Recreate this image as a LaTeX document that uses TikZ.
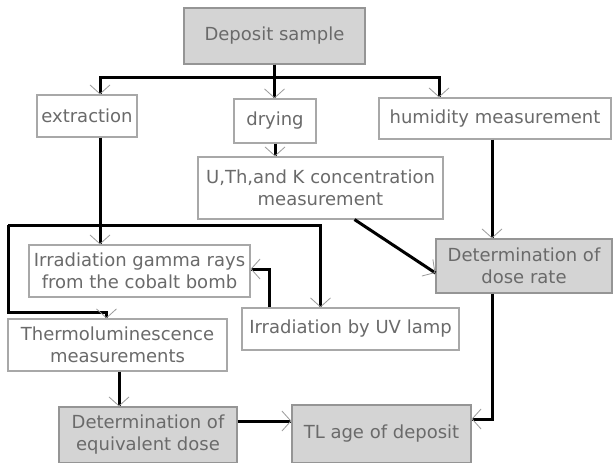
\documentclass[tikz,border=0pt]{standalone}
\usepackage{fontspec}
\setmainfont{DejaVu Sans}
\usetikzlibrary{arrows.meta,decorations.markings,calc}
\definecolor{txt}{HTML}{6A6A6A}
\definecolor{bord}{HTML}{A8A8A8}
\definecolor{gfill}{HTML}{D4D4D4}
\definecolor{gbord}{HTML}{959595}
\definecolor{tipc}{HTML}{9A9A9A}
\tikzset{
  box/.style={draw=bord, line width=1.1pt, fill=white, text=txt, align=center,
    inner sep=0pt, font=\fontsize{18}{22}\selectfont},
  gbox/.style={box, fill=gfill, draw=gbord},
  conn/.style={line width=3pt, black},
  arr/.style={postaction={decorate, decoration={markings,
    mark=at position 1 with {\arrow[tipc, line width=0.8pt]{Straight Barb[length=9pt,width=20pt]}}}}}
}
\begin{document}
\begin{tikzpicture}[x=1pt,y=-1pt]
\useasboundingbox[fill=white] (0,0) rectangle (613,463);
% nodes
\node[gbox, minimum width=181, minimum height=56] (dep) at (274.5,36) {Deposit sample};
\node[box, minimum width=100, minimum height=42] (ext) at (87,116) {extraction};
\node[box, minimum width=82, minimum height=44] (dry) at (275,121) {drying};
\node[box, minimum width=232, minimum height=41] (hum) at (495,118.5) {humidity measurement};
\node[box, minimum width=245, minimum height=62] (uth) at (320.5,188) {U,Th,and K concentration\\measurement};
\node[box, minimum width=221, minimum height=52] (gam) at (139.5,271) {Irradiation gamma rays\\from the cobalt bomb};
\node[gbox, minimum width=176, minimum height=54] (dose) at (524,266) {Determination of\\dose rate};
\node[box, minimum width=217, minimum height=42] (uv) at (350.5,329) {Irradiation by UV lamp};
\node[box, minimum width=219, minimum height=52] (tl) at (117.5,345) {Thermoluminescence\\measurements};
\node[gbox, minimum width=178, minimum height=56] (eq) at (148,435) {Determination of\\equivalent dose};
\node[gbox, minimum width=179, minimum height=58] (age) at (381.5,434) {TL age of deposit};
% coordinates
\coordinate (bar) at ($(dep.south)+(0,13)$);
\coordinate (lp) at (8,225);
% connectors
\draw[conn] (dep.south) -- (bar);
\draw[conn, arr] (bar) -| ([xshift=13]ext.north);
\draw[conn, arr] (bar) -| ([xshift=-56]hum.north);
\draw[conn, arr] (dep.south) -- (dep.south |- dry.north);
\draw[conn, arr] (dry.south) -- (dry.south |- uth.north);
\draw[conn, arr] ([xshift=13]ext.south) -- ([xshift=13]ext.south |- gam.north);
\draw[conn, arr] ([xshift=-3]hum.south) -- ([xshift=-3]hum.south |- dose.north);
\draw[conn, arr] ([xshift=34]uth.south) -- ([yshift=-7]dose.west);
\draw[conn, arr] (lp) -| ([xshift=-30]uv.north);
\draw[conn, arr] (lp) |- ($(tl.north west)+(99,-6)$) -- ($(tl.north west)+(99,0)$);
\draw[conn, arr] ([xshift=-81]uv.north) |- ([yshift=2]gam.east);
\draw[conn, arr] ([xshift=1.5]tl.south) -- ([xshift=1.5]tl.south |- eq.north);
\draw[conn, arr] ([yshift=14]eq.east) -- ([yshift=14]eq.east -| age.west);
\draw[conn, arr] ([xshift=-32]dose.south) |- ([yshift=15]age.east);
\end{tikzpicture}
\end{document}
